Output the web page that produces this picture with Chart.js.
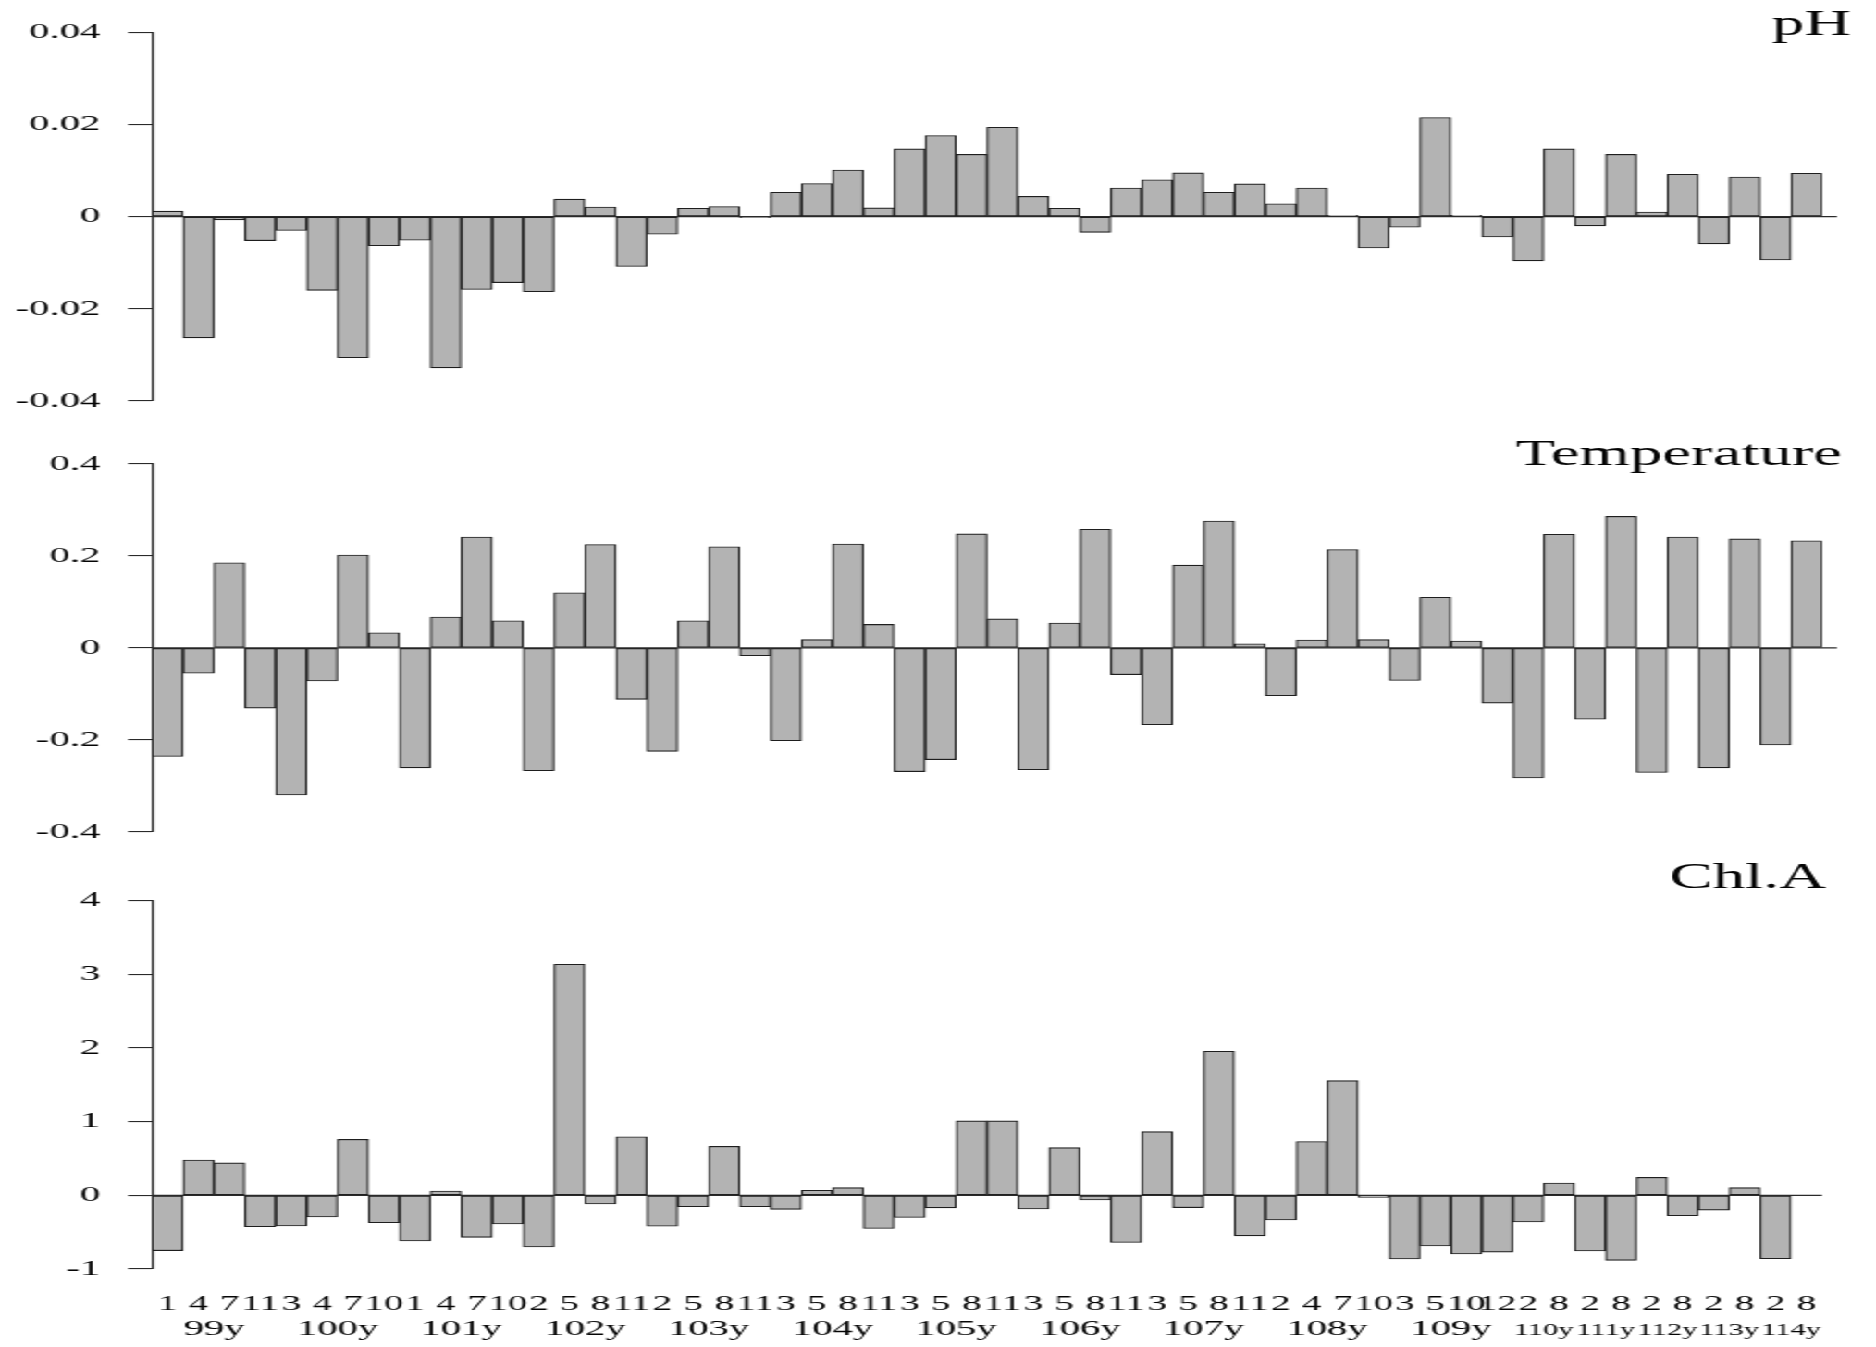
<!DOCTYPE html>
<html>
<head>
<meta charset="utf-8">
<script src="https://cdn.jsdelivr.net/npm/chart.js@4.4.0/dist/chart.umd.min.js"></script>
<style>
html,body{margin:0;padding:0;background:#fff;overflow:hidden;width:1876px;height:1347px;}
#stage{position:absolute;left:0;top:0;width:1014px;height:1347px;transform:scaleX(1.8501);transform-origin:0 0;}
#stage canvas{position:absolute;left:0;}
</style>
</head>
<body>
<div id="stage">
<canvas id="cPH" width="1014" height="430" style="top:0px"></canvas>
<canvas id="cT" width="1014" height="430" style="top:430px"></canvas>
<canvas id="cC" width="1014" height="487" style="top:860px"></canvas>
</div>
<script>
// ---- data ----
const monthLabels = [
  '1','4','7','11',  '3','4','7','10',  '1','4','7','10',
  '2','5','8','11',  '2','5','8','11',  '3','5','8','11',
  '3','5','8','11',  '3','5','8','11',  '3','5','8','11',
  '2','4','7','10',  '3','5','10','12',
  '2','8', '2','8', '2','8', '2','8', '2','8'
];
const yearLabels = ['99y','100y','101y','102y','103y','104y','105y','106y','107y','108y','109y','110y','111y','112y','113y','114y'];
const yearGroupSizes = [4,4,4,4,4,4,4,4,4,4,4,2,2,2,2,2];

const phValues = [0.0012,-0.0263,-0.0007,-0.0052,-0.003,-0.016,-0.0306,-0.0063,-0.0051,-0.0328,
  -0.0158,-0.0143,-0.0163,0.0038,0.0021,-0.0108,-0.0038,0.0018,0.0022,-0.0002,
  0.0053,0.0072,0.0101,0.0019,0.0147,0.0176,0.0135,0.0194,0.0044,0.0018,
  -0.0034,0.0062,0.008,0.0095,0.0053,0.0071,0.0028,0.0062,0.0003,-0.0068,
  -0.0023,0.0215,0.0003,-0.0044,-0.0096,0.0147,-0.002,0.0135,0.001,0.0092,
  -0.0059,0.0086,-0.0094,0.0094];
const tempValues = [-0.236,-0.055,0.185,-0.131,-0.32,-0.072,0.202,0.033,-0.261,0.067,
  0.241,0.059,-0.267,0.12,0.225,-0.112,-0.225,0.059,0.22,-0.017,
  -0.202,0.018,0.226,0.051,-0.269,-0.243,0.248,0.063,-0.265,0.054,
  0.258,-0.058,-0.167,0.18,0.276,0.009,-0.104,0.017,0.214,0.018,
  -0.071,0.11,0.015,-0.12,-0.283,0.247,-0.155,0.286,-0.271,0.241,
  -0.261,0.237,-0.211,0.233];
const chlValues = [-0.75,0.48,0.44,-0.425,-0.416,-0.294,0.76,-0.371,-0.62,0.059,
  -0.57,-0.389,-0.70,3.136,-0.118,0.796,-0.42,-0.154,0.665,-0.154,
  -0.19,0.068,0.104,-0.45,-0.30,-0.17,1.01,1.01,-0.186,0.647,
  -0.063,-0.64,0.864,-0.167,1.955,-0.55,-0.335,0.73,1.557,-0.027,
  -0.864,-0.688,-0.796,-0.77,-0.362,0.167,-0.756,-0.882,0.244,-0.276,
  -0.2,0.104,-0.86,null];

const phTicks = [-0.04,-0.02,0,0.02,0.04];
const phTickLabels = ['-0.04','-0.02','0','0.02','0.04'];
const tempTicks = [-0.4,-0.2,0,0.2,0.4];
const tempTickLabels = ['-0.4','-0.2','0','0.2','0.4'];
const chlTicks = [-1,0,1,2,3,4];
const chlTickLabels = ['-1','0','1','2','3','4'];

const titlePH = 'pH';
const titleTemp = 'Temperature';
const titleChl = 'Chl.A';

// ---- styling ----
const SERIF = '"Liberation Serif","Times New Roman",Times,serif';
const BAR_FILL = '#b3b3b3';
const BAR_EDGE = '#1e1e1e';
const INK = '#050505';

const zeroLinePlugin = {
  id: 'zeroLine',
  afterDatasetsDraw(chart, args, opts) {
    const y = chart.scales.y.getPixelForValue(0);
    const a = chart.chartArea;
    const ctx = chart.ctx;
    ctx.save();
    ctx.strokeStyle = '#2a2a2a';
    ctx.lineWidth = 1.3;
    ctx.beginPath();
    ctx.moveTo(a.left, y);
    ctx.lineTo(a.right + (opts.extend || 0), y);
    ctx.stroke();
    ctx.restore();
  }
};

const panelTitlePlugin = {
  id: 'panelTitle',
  afterDraw(chart, args, opts) {
    if (!opts || !opts.text) return;
    const ctx = chart.ctx;
    ctx.save();
    ctx.fillStyle = INK;
    ctx.font = '35px ' + SERIF;
    ctx.textAlign = 'right';
    ctx.textBaseline = 'alphabetic';
    ctx.fillText(opts.text, opts.x, opts.y);
    ctx.restore();
  }
};

const yearRowPlugin = {
  id: 'yearRow',
  afterDraw(chart, args, opts) {
    if (!opts || !opts.enabled) return;
    const xs = chart.scales.x;
    const ctx = chart.ctx;
    ctx.save();
    ctx.fillStyle = INK;
    ctx.textAlign = 'center';
    ctx.textBaseline = 'alphabetic';
    let idx = 0;
    yearLabels.forEach((lab, g) => {
      const n = yearGroupSizes[g];
      const x0 = xs.getPixelForValue(idx);
      const x1 = xs.getPixelForValue(idx + n - 1);
      ctx.font = (n >= 4 ? 22 : 16.5) + 'px ' + SERIF;
      ctx.fillText(lab, (x0 + x1) / 2, opts.baseline);
      idx += n;
    });
    ctx.restore();
  }
};

function makePanel(id, values, ticks, tickLabels, cfg) {
  return new Chart(document.getElementById(id), {
    type: 'bar',
    data: {
      labels: monthLabels,
      datasets: [{
        data: values,
        backgroundColor: BAR_FILL,
        borderColor: BAR_EDGE,
        borderWidth: 1.1,
        borderSkipped: false,
        categoryPercentage: 1.0,
        barPercentage: 1.0
      }]
    },
    options: {
      responsive: false,
      animation: false,
      devicePixelRatio: 1,
      layout: { padding: { top: cfg.top, bottom: cfg.bottom, left: 0, right: 29.2 } },
      plugins: {
        legend: { display: false },
        tooltip: { enabled: false },
        zeroLine: { extend: cfg.zeroExtend },
        panelTitle: { text: cfg.title, x: cfg.titleX, y: cfg.titleY },
        yearRow: { enabled: cfg.showX, baseline: 475 }
      },
      scales: {
        x: {
          display: cfg.showX,
          offset: true,
          grid: { display: false },
          border: { display: false },
          ticks: {
            autoSkip: false, maxRotation: 0, minRotation: 0, padding: 15,
            color: INK, font: { family: SERIF, size: 21 }
          },
          afterFit: s => { if (cfg.showX) s.height = 78; }
        },
        y: {
          min: ticks[0],
          max: ticks[ticks.length - 1],
          afterBuildTicks: s => { s.ticks = ticks.map(v => ({ value: v })); },
          ticks: {
            callback: (v, i) => tickLabels[i],
            padding: 15,
            color: INK,
            font: { family: SERIF, size: 22 }
          },
          grid: { drawOnChartArea: false, drawTicks: true, tickLength: 13, color: '#2a2a2a', lineWidth: 1.1 },
          border: { display: true, color: '#2a2a2a', width: 1.2 },
          afterFit: s => { s.width = 82.2; }
        }
      }
    },
    plugins: [zeroLinePlugin, panelTitlePlugin, yearRowPlugin]
  });
}

makePanel('cPH', phValues, phTicks, phTickLabels,
  { top: 32.3, bottom: 29, showX: false, zeroExtend: 8.1, title: titlePH, titleX: 1000.5, titleY: 35 });
makePanel('cT', tempValues, tempTicks, tempTickLabels,
  { top: 34, bottom: 27.3, showX: false, zeroExtend: 8.1, title: titleTemp, titleX: 995.6, titleY: 35 });
makePanel('cC', chlValues, chlTicks, chlTickLabels,
  { top: 40.7, bottom: 0, showX: true, zeroExtend: 0, title: titleChl, titleX: 987, titleY: 28 });
</script>
</body>
</html>
